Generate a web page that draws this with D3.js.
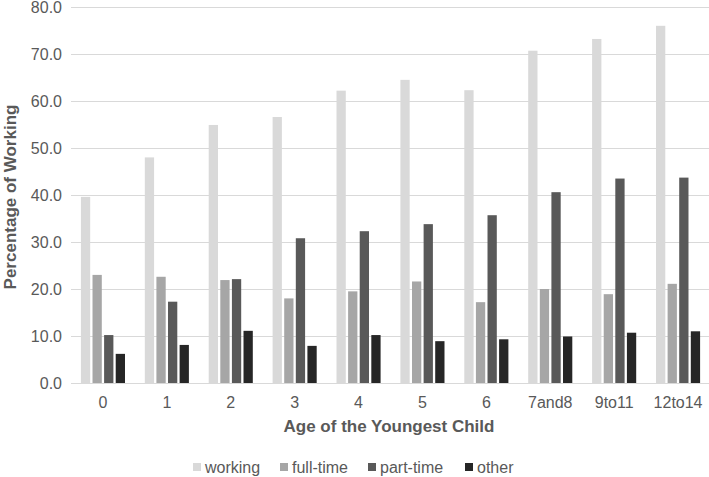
<!DOCTYPE html>
<html>
<head>
<meta charset="utf-8">
<script src="https://cdn.jsdelivr.net/npm/d3@7"></script>
<style>
  body { margin: 0; background: #fff; }
  text { font-family: "Liberation Sans", Arial, sans-serif; }
</style>
</head>
<body>
<svg id="chart" width="709" height="477"></svg>
<script>
// data
var ages = ["0", "1", "2", "3", "4", "5", "6", "7and8", "9to11", "12to14"];
var seriesNames = ["working", "full-time", "part-time", "other"];
var working  = [39.6, 48.0, 54.9, 56.6, 62.2, 64.5, 62.3, 70.7, 73.2, 76.0];
var fullTime = [23.0, 22.6, 21.9, 18.0, 19.5, 21.6, 17.2, 20.0, 18.9, 21.1];
var partTime = [10.2, 17.3, 22.1, 30.8, 32.3, 33.8, 35.7, 40.6, 43.5, 43.7];
var other    = [6.2, 8.1, 11.1, 7.9, 10.2, 8.9, 9.3, 9.9, 10.7, 11.0];
var yTicks = [0, 10, 20, 30, 40, 50, 60, 70, 80];

var colors = ["#d9d9d9", "#a6a6a6", "#595959", "#262626"];
var values = [working, fullTime, partTime, other];

var svg = d3.select("#chart");
// plot area (note: "top" is reserved on window, so use other names)
var plotLeft = 71, plotRight = 710, plotTop = 7, plotBottom = 383;

var x = d3.scaleBand().domain(ages).range([plotLeft, plotRight]);
var bw = x.bandwidth();
var x1 = d3.scaleBand().domain(seriesNames)
  .range([bw * 0.155, bw * 0.845])
  .paddingInner(0.2);
var y = d3.scaleLinear().domain([0, 80]).range([plotBottom, plotTop]);
var color = d3.scaleOrdinal().domain(seriesNames).range(colors);

// gridlines + y labels
var yAxis = svg.append("g")
  .attr("transform", "translate(" + plotLeft + ",0)")
  .call(d3.axisLeft(y).tickValues(yTicks).tickFormat(d3.format(".1f"))
    .tickSize(-(plotRight - plotLeft)).tickPadding(9));
yAxis.select(".domain").remove();
yAxis.selectAll("line").attr("stroke", "#d9d9d9");
yAxis.selectAll("text")
  .attr("fill", "#595959")
  .style("font-size", "16px");

// bars
var rows = ages.map(function(a, i) {
  return { age: a, vals: seriesNames.map(function(s, j) { return { key: s, v: values[j][i] }; }) };
});

var group = svg.selectAll(".grp")
  .data(rows)
  .enter().append("g")
  .attr("class", "grp")
  .attr("transform", function(d) { return "translate(" + x(d.age) + ",0)"; });

group.selectAll("rect")
  .data(function(d) { return d.vals; })
  .enter().append("rect")
  .attr("x", function(d) { return x1(d.key); })
  .attr("width", x1.bandwidth())
  .attr("y", function(d) { return y(d.v); })
  .attr("height", function(d) { return y(0) - y(d.v); })
  .attr("fill", function(d) { return color(d.key); });

// x axis labels
var xAxis = svg.append("g")
  .attr("transform", "translate(0," + plotBottom + ")")
  .call(d3.axisBottom(x).tickSize(0).tickPadding(14));
xAxis.select(".domain").remove();
xAxis.selectAll("text")
  .attr("fill", "#595959")
  .style("font-size", "16px");

// axis titles
svg.append("text")
  .attr("x", 389).attr("y", 426)
  .attr("text-anchor", "middle")
  .attr("dominant-baseline", "central")
  .attr("fill", "#595959")
  .style("font-size", "17px")
  .style("font-weight", "bold")
  .text("Age of the Youngest Child");

svg.append("text")
  .attr("transform", "translate(10,197) rotate(-90)")
  .attr("text-anchor", "middle")
  .attr("dominant-baseline", "central")
  .attr("fill", "#595959")
  .style("font-size", "17px")
  .style("font-weight", "bold")
  .text("Percentage of Working");

// legend
var legendX = [193, 280, 368, 465];
var legend = svg.selectAll(".leg")
  .data(seriesNames)
  .enter().append("g")
  .attr("class", "leg")
  .attr("transform", function(d, i) { return "translate(" + legendX[i] + ",467)"; });

legend.append("rect")
  .attr("x", 0).attr("y", -4)
  .attr("width", 8).attr("height", 8)
  .attr("fill", function(d) { return color(d); });

legend.append("text")
  .attr("x", 12)
  .attr("dominant-baseline", "central")
  .attr("fill", "#595959")
  .style("font-size", "16px")
  .text(function(d) { return d; });
</script>
</body>
</html>
